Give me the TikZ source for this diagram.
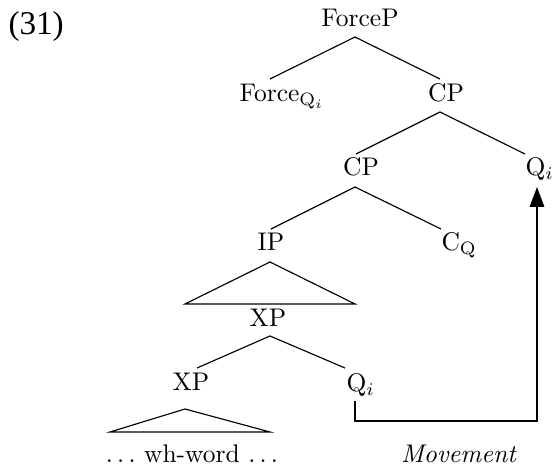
\documentclass[tikz,border=0pt]{standalone}
\usepackage{fontspec}
\newfontfamily\numfont{Liberation Serif}
\usetikzlibrary{arrows.meta}
\begin{document}
\begin{tikzpicture}[x=0.392pt,y=-0.392pt,
  lbl/.style={inner sep=0pt,anchor=base},
  lblw/.style={inner sep=0pt,anchor=base west},
  edge/.style={line width=0.45pt},
  move/.style={line width=0.85pt,-{Triangle[length=7.8pt,width=5.6pt]}}]
\useasboundingbox (0,0) rectangle (553,470);
% labels
\node[lblw] (num) at (8,35) {\numfont\fontsize{13}{15}\selectfont (31)};
\node[lbl] (forcep) at (360,27) {ForceP};
\node[lblw] (force) at (239,102) {Force$_{\mathrm{Q}_i}$};
\node[lbl] (cp1) at (446,102) {CP};
\node[lbl] (cp2) at (361,176) {CP};
\node[lblw] (qtop) at (525,176) {Q$_i$};
\node[lbl] (ip) at (271,251) {IP};
\node[lblw] (cq) at (441,251) {C$_{\mathrm{Q}}$};
\node[lbl] (xp1) at (268,327) {XP};
\node[lbl] (xp2) at (191,391) {XP};
\node[lblw] (qlow) at (346,392) {Q$_i$};
\node[lbl] (wh) at (192,463) {$\ldots$ wh-word $\ldots$};
\node[lbl] (mv) at (459,463) {\textit{Movement}};
% branch points
\coordinate (a1) at (355,37);
\coordinate (e1l) at (270,79);
\coordinate (e1r) at (440,79);
\coordinate (a2) at (440,112);
\coordinate (e2l) at (356,154);
\coordinate (e2r) at (525,154);
\coordinate (a3) at (355,187);
\coordinate (e3l) at (271,229);
\coordinate (e3r) at (441,229);
\coordinate (t1a) at (270,262);
\coordinate (t1l) at (185,304);
\coordinate (t1r) at (355,304);
\coordinate (a4) at (270,336);
\coordinate (e4l) at (197,368);
\coordinate (e4r) at (345,368);
\coordinate (t2a) at (185,409);
\coordinate (t2l) at (110,432);
\coordinate (t2r) at (270,432);
\coordinate (ms) at (355,401);
\coordinate (mc) at (537,421);
\coordinate (me) at (537,187);
% edges
\draw[edge] (e1l) -- (a1) -- (e1r);
\draw[edge] (e2l) -- (a2) -- (e2r);
\draw[edge] (e3l) -- (a3) -- (e3r);
\draw[edge] (t1a) -- (t1l) -- (t1r) -- cycle;
\draw[edge] (e4l) -- (a4) -- (e4r);
\draw[edge] (t2a) -- (t2l) -- (t2r) -- cycle;
% movement arrow
\draw[move] (ms) |- (mc) -- (me);
\end{tikzpicture}
\end{document}
